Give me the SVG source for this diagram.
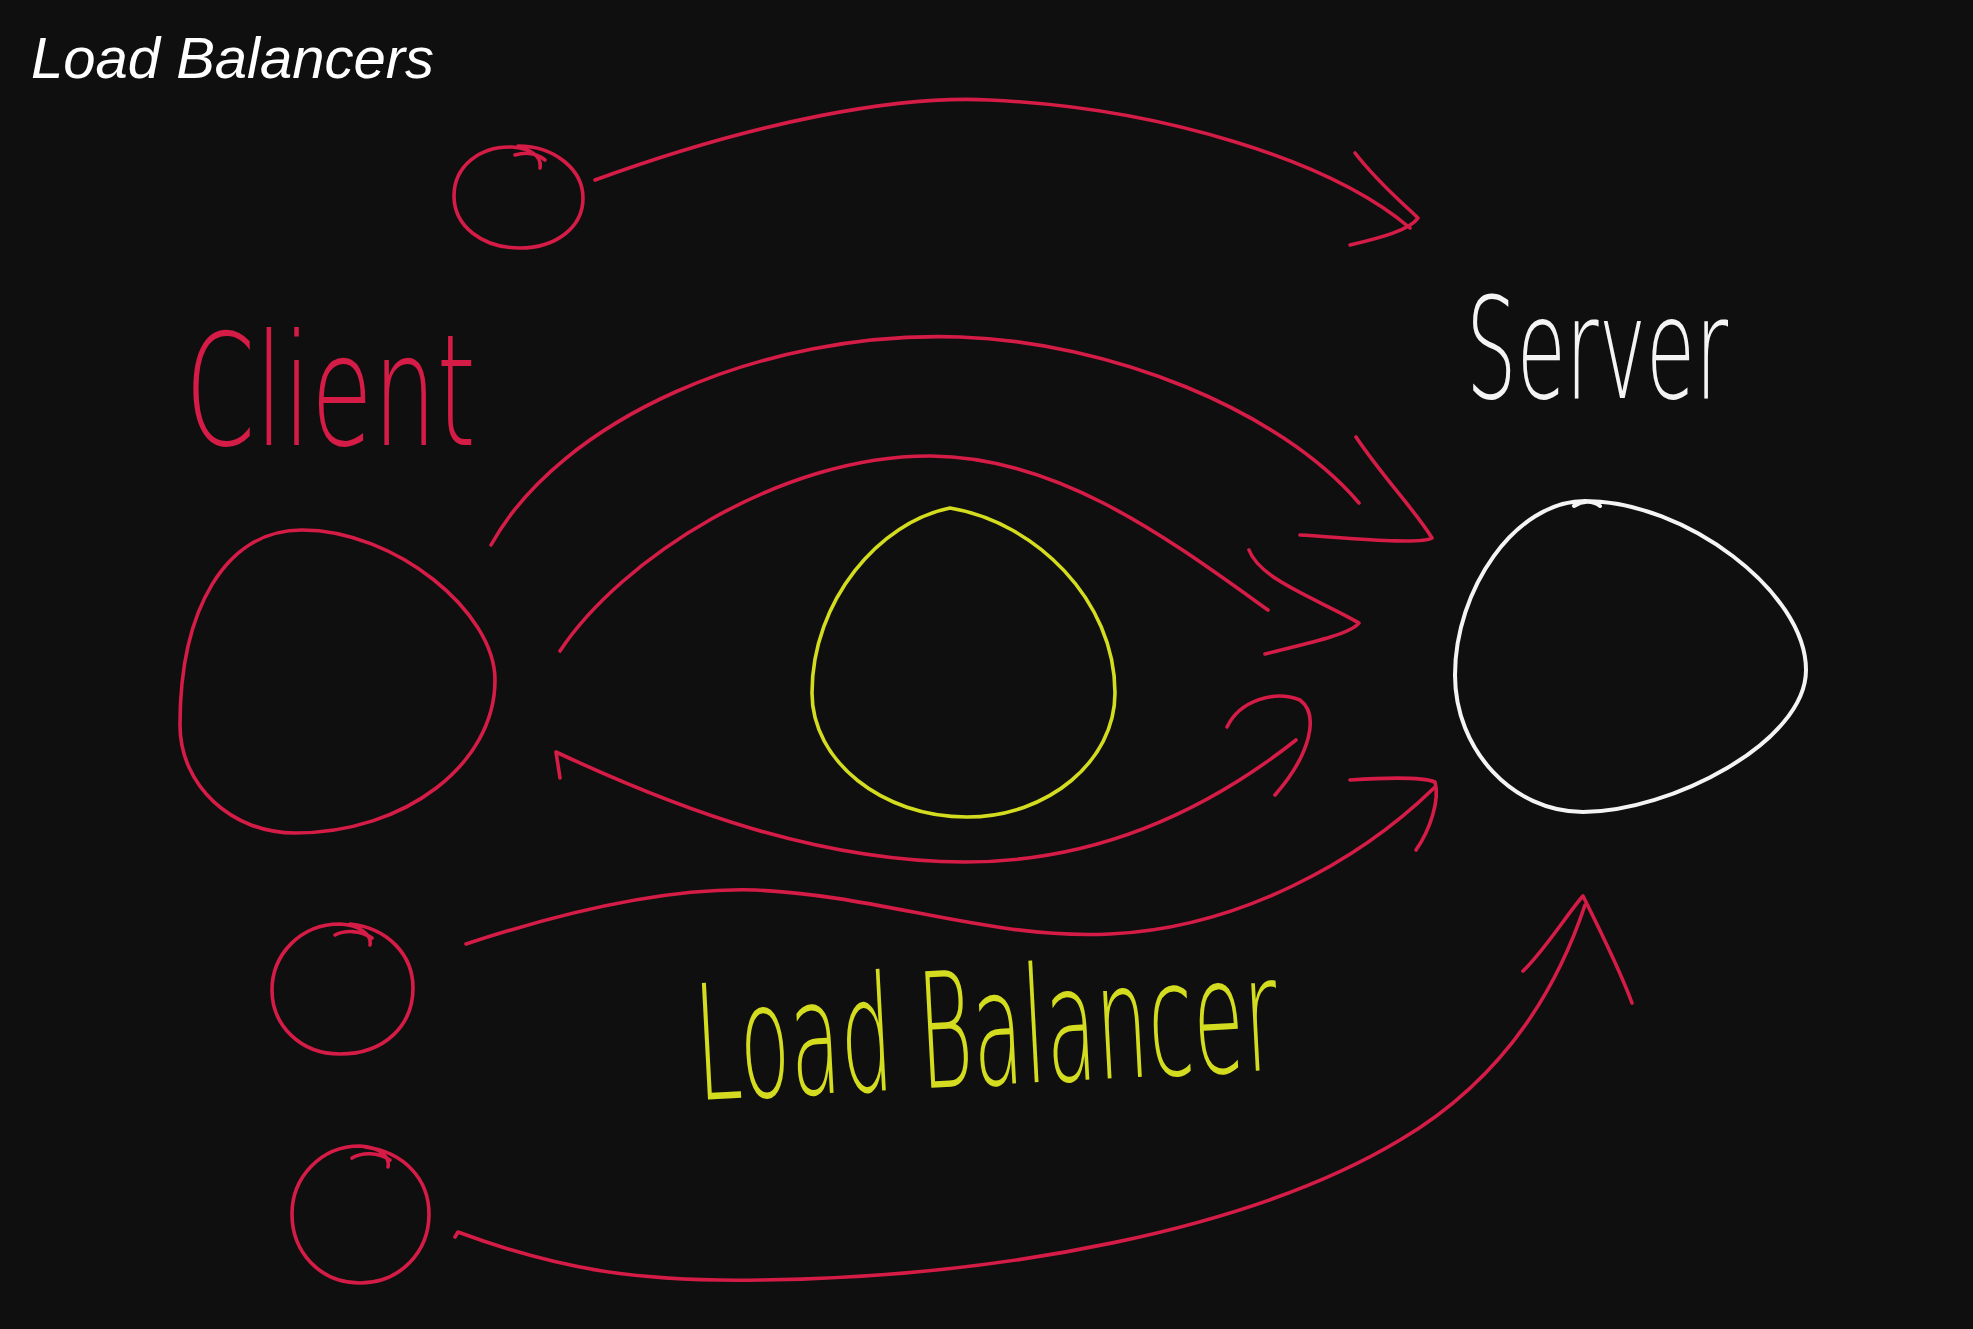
<svg xmlns="http://www.w3.org/2000/svg" width="1973" height="1329" viewBox="0 0 1973 1329">
<style>
.r{fill:none;stroke:#d51c47;stroke-width:3.6;stroke-linecap:round;stroke-linejoin:round}
.y{fill:none;stroke:#d3dc1e;stroke-width:3.6;stroke-linecap:round;stroke-linejoin:round}
.w{fill:none;stroke:#f4f4f4;stroke-width:4;stroke-linecap:round;stroke-linejoin:round}
.hand{font-family:"DejaVu Sans","Liberation Sans",sans-serif;font-weight:200}
</style>
<rect width="1973" height="1329" fill="#0f0f0f"/>
<text x="31" y="78" font-family="Liberation Sans, Arial, sans-serif" font-style="italic" font-size="58" fill="#ffffff">Load Balancers</text>

<g id="client-small-1">
<path class="r" d="M518,146 C555,146 583,170 583,198 C583,228 555,248 520,248 C482,248 454,226 454,196 C454,166 480,146 512,147 C530,148 542,156 540,168 M515,155 C525,152 535,152 545,160"/>
</g>
<g id="client-main">
<path class="r" d="M302,530 C395,530 495,612 495,680 C495,764 405,833 295,833 C232,833 180,786 180,725 C180,610 225,530 302,530 Z"/>
<text class="hand" x="185" y="445" font-size="155" fill="#d51c47" textLength="291" lengthAdjust="spacingAndGlyphs">Client</text>
</g>
<g id="client-small-2">
<path class="r" d="M350,924 C388,928 413,955 413,988 C413,1025 385,1054 340,1054 C300,1054 272,1025 272,990 C272,955 300,924 340,924 C360,925 372,935 370,945 M335,935 C345,930 360,930 372,938"/>
</g>
<g id="client-small-3">
<path class="r" d="M365,1147 C405,1152 429,1180 429,1214 C429,1252 400,1283 360,1283 C320,1283 292,1252 292,1214 C292,1178 320,1146 360,1146 C380,1147 390,1157 388,1167 M352,1158 C362,1152 378,1152 390,1160"/>
</g>
<g id="load-balancer">
<path class="y" d="M950,508 C1035,522 1115,600 1115,693 C1115,761 1048,817 967,817 C882,817 812,761 812,693 C812,600 880,522 950,508 Z"/>
<text class="hand" x="698" y="1100" font-size="160" fill="#d3dc1e" textLength="583" lengthAdjust="spacingAndGlyphs" transform="rotate(-3 698 1100)">Load Balancer</text>
</g>
<g id="server">
<path class="w" d="M1585,501 C1685,501 1806,592 1806,670 C1806,742 1670,812 1583,812 C1513,812 1455,750 1455,675 C1455,590 1515,501 1585,501 Z M1574,506 C1582,501 1592,500 1600,506"/>
<text class="hand" x="1466" y="398" font-size="140" fill="#f4f4f4" textLength="262" lengthAdjust="spacingAndGlyphs">Server</text>
</g>

<g id="connectors">
<path class="r" d="M595,180 C760,120 900,95 990,100 C1160,108 1330,160 1410,228"/>
<path class="r" d="M1355,153 C1380,185 1405,205 1418,218 C1410,230 1380,238 1350,245"/>
<path class="r" d="M491,545 C560,420 760,330 960,337 C1110,342 1280,410 1359,503"/>
<path class="r" d="M1356,437 C1385,480 1415,510 1432,538 C1420,545 1350,538 1300,535"/>
<path class="r" d="M560,651 C620,560 780,455 931,456 C1060,457 1170,540 1268,610"/>
<path class="r" d="M1249,550 C1260,580 1320,600 1359,623 C1350,635 1300,645 1265,654"/>
<path class="r" d="M560,778 L556,752 C680,810 820,862 965,862 C1110,862 1220,800 1296,740"/>
<path class="r" d="M1227,727 C1240,700 1275,690 1300,700 C1320,715 1310,755 1275,795"/>
<path class="r" d="M466,944 C600,900 690,888 755,890 C880,895 990,940 1110,934 C1240,928 1360,860 1434,788"/>
<path class="r" d="M1350,780 C1380,778 1420,776 1435,782 C1440,800 1430,830 1416,850"/>
<path class="r" d="M455,1237 L458,1232 C560,1270 640,1282 760,1280 C1000,1277 1250,1230 1400,1140 C1510,1075 1560,980 1585,905"/>
<path class="r" d="M1523,971 C1545,950 1570,910 1583,896 C1600,930 1620,970 1632,1003"/>
</g>
</svg>
